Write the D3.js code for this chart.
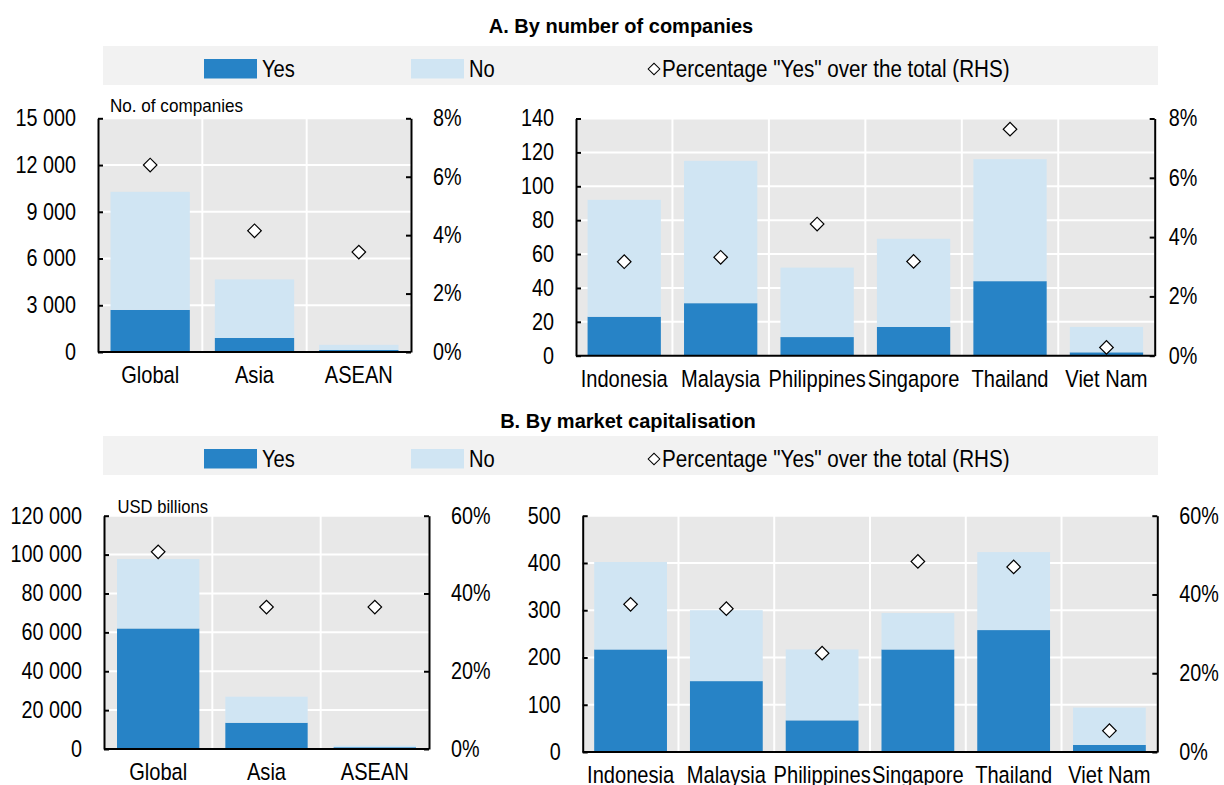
<!DOCTYPE html>
<html>
<head>
<meta charset="utf-8">
<script src="https://cdn.jsdelivr.net/npm/d3@7"></script>
<style>
  body { margin: 0; background: #fff; }
  svg text { font-family: "Liberation Sans", Arial, sans-serif; fill: #000; }
</style>
</head>
<body>
<svg id="chart" width="1224" height="785"></svg>
<script>
// categories
var groups = ["Global", "Asia", "ASEAN"];
var countries = ["Indonesia", "Malaysia", "Philippines", "Singapore", "Thailand", "Viet Nam"];
var seriesNames = ["Yes", "No"];

// A. by number of companies
var groupYesA = [2700, 900, 128];
var groupNoA = [7580, 3760, 333];
var groupPctA = [0.064, 0.0415, 0.0342];
var countryYesA = [23, 31, 11, 17, 44, 2];
var countryNoA = [69, 84, 41, 52, 72, 15];
var countryPctA = [0.0317, 0.0332, 0.0444, 0.0318, 0.0764, 0.0028];

// B. by market capitalisation (USD billions)
var groupYesB = [62000, 13500, 920];
var groupNoB = [35700, 13400, 810];
var groupPctB = [0.507, 0.365, 0.365];
var countryYesB = [217, 150, 67, 217, 258, 15];
var countryNoB = [185, 150, 150, 77, 165, 79];
var countryPctB = [0.375, 0.364, 0.251, 0.484, 0.47, 0.054];

// tick values
var ticksGroupA = [0, 3000, 6000, 9000, 12000, 15000];
var ticksCountryA = [0, 20, 40, 60, 80, 100, 120, 140];
var ticksPctA = [0, 0.02, 0.04, 0.06, 0.08];
var ticksGroupB = [0, 20000, 40000, 60000, 80000, 100000, 120000];
var ticksCountryB = [0, 100, 200, 300, 400, 500];
var ticksPctB = [0, 0.2, 0.4, 0.6];

var darkBlue = "#2783c6", lightBlue = "#d0e5f3", plotGrey = "#e8e8e8", legendGrey = "#f2f2f2";

var svg = d3.select("#chart");
var locale = d3.formatLocale({ decimal: ".", thousands: " ", grouping: [3], currency: ["", ""] });
var fmtNum = locale.format(",");
var fmtPct = d3.format(".0%");

// the source uses a narrow face: squeeze text horizontally around its anchor
function squeeze(sel, sx) {
  sel.each(function() {
    var t = d3.select(this);
    var x = +t.attr("x") || 0, y = +t.attr("y") || 0;
    t.attr("x", 0).attr("y", 0)
      .attr("transform", "translate(" + x + "," + y + ") scale(" + sx + ",1)");
  });
}

function drawPanel(p) {
  var g = svg.append("g");
  var rows = p.cats.map(function(c, i) { return { cat: c, Yes: p.yes[i], No: p.no[i], pct: p.pct[i] }; });
  var stacked = d3.stack().keys(seriesNames)(rows);

  var x = d3.scaleBand().domain(p.cats).range([p.x0, p.x1]).paddingInner(0.24).paddingOuter(0.12);
  var y = d3.scaleLinear().domain([0, p.yMax]).range([p.y1, p.y0]);
  var yr = d3.scaleLinear().domain([0, p.pMax]).range([p.y1, p.y0]);
  var gap = (x.step() - x.bandwidth()) / 2;

  g.append("rect").attr("x", p.x0).attr("y", p.y0)
    .attr("width", p.x1 - p.x0).attr("height", p.y1 - p.y0).attr("fill", plotGrey);

  // horizontal grid on the left-axis ticks
  g.selectAll(".hgrid").data(p.yTicks.slice(1)).enter().append("line")
    .attr("x1", p.x0).attr("x2", p.x1)
    .attr("y1", function(d) { return y(d); }).attr("y2", function(d) { return y(d); })
    .attr("stroke", "#fff").attr("stroke-width", 2);
  // vertical grid between categories
  g.selectAll(".vgrid").data(p.cats.slice(1)).enter().append("line")
    .attr("x1", function(d) { return x(d) - gap; })
    .attr("x2", function(d) { return x(d) - gap; })
    .attr("y1", p.y0).attr("y2", p.y1)
    .attr("stroke", "#fff").attr("stroke-width", 2);

  // stacked bars
  var colors = { Yes: darkBlue, No: lightBlue };
  g.selectAll(".series").data(stacked).enter().append("g")
    .attr("fill", function(s) { return colors[s.key]; })
    .selectAll("rect").data(function(s) { return s; }).enter().append("rect")
      .attr("x", function(d) { return x(d.data.cat); })
      .attr("width", x.bandwidth())
      .attr("y", function(d) { return y(d[1]); })
      .attr("height", function(d) { return y(d[0]) - y(d[1]); });

  // axes
  var left = g.append("g").attr("transform", "translate(" + p.x0 + ",0)")
    .call(d3.axisLeft(y).tickValues(p.yTicks).tickFormat(fmtNum).tickSizeInner(-5).tickSizeOuter(0).tickPadding(22));
  var right = g.append("g").attr("transform", "translate(" + p.x1 + ",0)")
    .call(d3.axisRight(yr).tickValues(p.pTicks).tickFormat(fmtPct).tickSizeInner(-5).tickSizeOuter(0).tickPadding(p.rPad));
  var bottom = g.append("g").attr("transform", "translate(0," + p.y1 + ")")
    .call(d3.axisBottom(x).tickSize(0).tickPadding(0));
  bottom.select(".domain").attr("d", "M" + p.x0 + ",0H" + p.x1);

  [left, right, bottom].forEach(function(a) {
    a.select(".domain").attr("stroke", "#000").attr("stroke-width", 2);
    a.selectAll(".tick line").attr("stroke", "#000").attr("stroke-width", 2);
    a.selectAll("text").attr("font-family", null);
  });
  left.selectAll("text").attr("font-size", 23);
  right.selectAll("text").attr("font-size", 23);
  squeeze(left.selectAll("text"), 0.86);
  squeeze(right.selectAll("text"), 0.86);
  bottom.selectAll("text").attr("font-size", 24.5).attr("dy", null).attr("y", 31);
  squeeze(bottom.selectAll("text"), 0.82);

  // percentage markers (RHS)
  g.selectAll(".pct").data(rows).enter().append("path")
    .attr("d", d3.symbol(d3.symbolSquare, 92))
    .attr("transform", function(d) {
      return "translate(" + (x(d.cat) + x.bandwidth() / 2) + "," + yr(d.pct) + ") rotate(45)";
    })
    .attr("fill", "#fff").attr("stroke", "#000").attr("stroke-width", 1.2);

  if (p.unit) {
    var u = g.append("text").attr("x", p.unitX).attr("y", p.unitY)
      .attr("font-size", p.unitSize).text(p.unit);
    squeeze(u, 0.95);
  }
}

function drawLegend(top) {
  var g = svg.append("g");
  g.append("rect").attr("x", 103).attr("y", top).attr("width", 1055).attr("height", 39).attr("fill", legendGrey);
  var items = [
    { name: seriesNames[0], color: darkBlue, sx: 204, tx: 262 },
    { name: seriesNames[1], color: lightBlue, sx: 411, tx: 469 }
  ];
  items.forEach(function(it) {
    g.append("rect").attr("x", it.sx).attr("y", top + 13).attr("width", 53).attr("height", 19.5).attr("fill", it.color);
    var t = g.append("text").attr("x", it.tx).attr("y", top + 31).attr("font-size", 24).text(it.name);
    squeeze(t, 0.84);
  });
  g.append("path").attr("d", d3.symbol(d3.symbolSquare, 68))
    .attr("transform", "translate(654," + (top + 23) + ") rotate(45)")
    .attr("fill", "#fff").attr("stroke", "#000").attr("stroke-width", 1);
  var t = g.append("text").attr("x", 662).attr("y", top + 31).attr("font-size", 24)
    .text("Percentage \"Yes\" over the total (RHS)");
  squeeze(t, 0.86);
}

function drawTitle(txt, cx, baseline) {
  svg.append("text").attr("x", cx).attr("y", baseline).attr("text-anchor", "middle")
    .attr("font-size", 20).attr("font-weight", "bold").text(txt);
}

drawTitle("A. By number of companies", 621, 33);
drawLegend(46);
drawPanel({ cats: groups, yes: groupYesA, no: groupNoA, pct: groupPctA,
  x0: 98, x1: 411, y0: 118.3, y1: 352, yMax: 15000, yTicks: ticksGroupA, pMax: 0.08, pTicks: ticksPctA,
  rPad: 22, unit: "No. of companies", unitX: 110, unitY: 111.5, unitSize: 18 });
drawPanel({ cats: countries, yes: countryYesA, no: countryNoA, pct: countryPctA,
  x0: 576, x1: 1154.7, y0: 118.5, y1: 355.7, yMax: 140, yTicks: ticksCountryA, pMax: 0.08, pTicks: ticksPctA,
  rPad: 14 });

drawTitle("B. By market capitalisation", 628, 428);
drawLegend(436);
drawPanel({ cats: groups, yes: groupYesB, no: groupNoB, pct: groupPctB,
  x0: 104, x1: 429, y0: 515.7, y1: 749, yMax: 120000, yTicks: ticksGroupB, pMax: 0.6, pTicks: ticksPctB,
  rPad: 22, unit: "USD billions", unitX: 117.5, unitY: 512.5, unitSize: 17.5 });
drawPanel({ cats: countries, yes: countryYesB, no: countryNoB, pct: countryPctB,
  x0: 582.7, x1: 1157.3, y0: 515.7, y1: 752, yMax: 500, yTicks: ticksCountryB, pMax: 0.6, pTicks: ticksPctB,
  rPad: 22 });
</script>
</body>
</html>
